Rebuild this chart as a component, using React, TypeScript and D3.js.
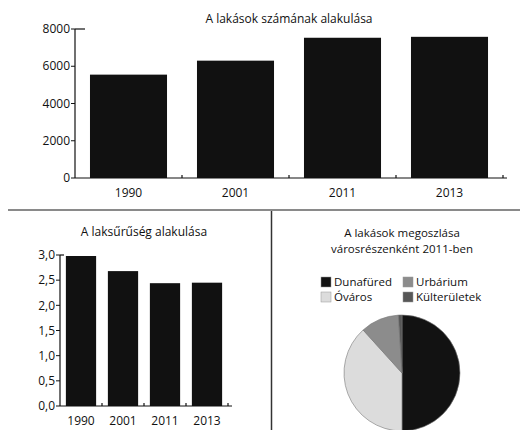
import * as d3 from 'd3'

const years = ['1990', '2001', '2011', '2013']
const dwellings = [5550, 6300, 7530, 7580]
const dwellingTicks = [0, 2000, 4000, 6000, 8000]
const density = [2.98, 2.68, 2.44, 2.45]
const densityTicks = [0, 0.5, 1, 1.5, 2, 2.5, 3]
const districts = ['Dunafüred', 'Óváros', 'Urbárium', 'Külterületek']
const districtShares = [50, 38.3, 10.7, 1]
const districtColors = ['#121212', '#dcdcdc', '#8c8c8c', '#575757']

const FONT = '"Open Sans", sans-serif'
const INK = '#111'

interface BarPanelProps {
  values: number[]
  ticks: number[]
  title: string
  x0: number
  x1: number
  y0: number
  y1: number
  max: number
  titleY: number
  fmt: (v: number) => string
  labelY: number
}

function BarPanel({ values, ticks, title, x0, x1, y0, y1, max, titleY, fmt, labelY }: BarPanelProps) {
  const x = d3.scaleBand<string>()
    .domain(years)
    .range([x0, x1])
    .paddingInner(0.28)
    .paddingOuter(0.14)
  const y = d3.scaleLinear().domain([0, max]).range([y0, y1])
  const gap = x.step() * 0.28

  return (
    <g fontFamily={FONT} fill={INK}>
      <text x={(x0 + x1) / 2} y={titleY} textAnchor="middle" fontSize={12}>{title}</text>
      {values.map((v, i) => (
        <rect key={years[i]} x={x(years[i])} y={y(v)} width={x.bandwidth()}
          height={y0 - y(v)} fill="#111" />
      ))}
      {/* y axis */}
      <line x1={x0} x2={x0} y1={y(max)} y2={y0} stroke={INK} strokeWidth={1.2} />
      <line x1={x0} x2={x0 + (max > 10 ? 10 : 4)} y1={y(max)} y2={y(max)} stroke={INK} strokeWidth={1.2} />
      {ticks.map(t => (
        <g key={t}>
          <line x1={x0 - 4} x2={x0} y1={y(t)} y2={y(t)} stroke={INK} strokeWidth={1} />
          <text x={x0 - 5} y={y(t)} dy="0.35em" textAnchor="end" fontSize={12}>{fmt(t)}</text>
        </g>
      ))}
      {/* x axis */}
      <line x1={x0} x2={x1 + 4} y1={y0} y2={y0} stroke={INK} strokeWidth={1.2} />
      {years.map(yr => {
        const bx = (x(yr) as number) + x.bandwidth() + gap / 2
        return <line key={yr} x1={bx} x2={bx} y1={y0} y2={y0 - 3} stroke={INK} strokeWidth={1.2} />
      })}
      {years.map(yr => (
        <text key={yr} x={(x(yr) as number) + x.bandwidth() / 2} y={labelY}
          textAnchor="middle" fontSize={12}>{yr}</text>
      ))}
    </g>
  )
}

function PiePanel() {
  const cx = 402
  const cy = 373
  const r = 58
  const pie = d3.pie<number>().sort(null).value(d => d)
  const arcs = pie(districtShares)
  const arc = d3.arc<d3.PieArcDatum<number>>().innerRadius(0).outerRadius(r)
  const legendX = [321, 403]
  const legendY = [282, 297]

  return (
    <g fontFamily={FONT} fill={INK}>
      <text x={402} y={237} textAnchor="middle" fontSize={11.5}>A lakások megoszlása</text>
      <text x={402} y={253} textAnchor="middle" fontSize={11.5}>városrészenként 2011-ben</text>
      {districts.map((d, i) => {
        const col = i < 2 ? 0 : 1
        const row = i % 2
        return (
          <g key={d} transform={`translate(${legendX[col]},${legendY[row]})`}>
            <rect x={0} y={-5} width={10} height={10} fill={districtColors[i]}
              stroke="#999" strokeWidth={0.5} />
            <text x={13} y={0} dy="0.35em" fontSize={11.5}>{d}</text>
          </g>
        )
      })}
      <g transform={`translate(${cx},${cy})`}>
        {arcs.map((a, i) => (
          <path key={districts[i]} d={arc(a) as string} fill={districtColors[i]}
            stroke="#777" strokeWidth={0.6} />
        ))}
      </g>
    </g>
  )
}

export default function App() {
  return (
    <svg width={520} height={430} style={{ position: 'absolute', left: 0, top: 0, background: '#fff' }}>
      <BarPanel values={dwellings} ticks={dwellingTicks} title="A lakások számának alakulása"
        x0={75} x1={503} y0={178} y1={29} max={8000} titleY={23}
        fmt={v => String(v)} labelY={197} />
      <line x1={8} x2={520} y1={210} y2={210} stroke="#8a8a8a" strokeWidth={2} />
      <line x1={271.5} x2={271.5} y1={211} y2={430} stroke="#333" strokeWidth={1.5} />
      <BarPanel values={density} ticks={densityTicks} title="A laksűrűség alakulása"
        x0={60} x1={228} y0={406} y1={255} max={3} titleY={236}
        fmt={v => d3.format('.1f')(v).replace('.', ',')} labelY={425} />
      <PiePanel />
    </svg>
  )
}
